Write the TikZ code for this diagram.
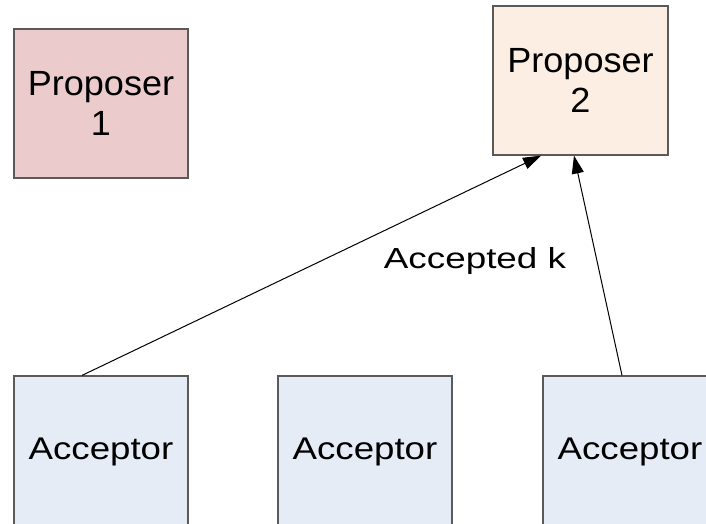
\documentclass[tikz,border=0pt]{standalone}
\usepackage{fontspec}
\setmainfont{Liberation Sans}
\usetikzlibrary{arrows.meta}
\definecolor{propA}{HTML}{EBCBCB}
\definecolor{propB}{HTML}{FCEEE2}
\definecolor{accfill}{HTML}{E6ECF6}
\definecolor{edgegray}{HTML}{5A5A5A}
% horizontally stretched sans text
\newcommand{\widetxt}[2][1.2]{\scalebox{#1}[1]{#2}}
\tikzset{
  box/.style={draw=edgegray, line width=0.9pt, rectangle, align=center,
    minimum width=130.5pt, inner sep=0pt},
  propbox/.style={box, minimum height=111.75pt,
    font=\fontsize{26.25}{30}\selectfont},
  accbox/.style={box, fill=accfill, minimum height=114pt,
    font=\fontsize{23.5}{27}\selectfont},
  link/.style={draw=black, line width=0.75pt,
    -{Triangle[length=13.5pt, width=9pt]}},
  lbl/.style={font=\fontsize{21.75}{26}\selectfont, inner sep=0pt}
}
\begin{document}
\begin{tikzpicture}[x=0.75pt, y=-0.75pt]
  \clip (0,0) rectangle (706,524);
  \fill[white] (0,0) rectangle (706,524);

  % proposers
  \node[propbox, fill=propA] (prop1) at (101,103.5)
    {\widetxt[1.03]{Proposer}\\\widetxt[1.03]{1}};
  \node[propbox, fill=propB, minimum width=131.25pt] (prop2) at (580.5,80.5)
    {\widetxt[1.03]{Proposer}\\\widetxt[1.03]{2}};

  % acceptors (their lower edges run past the bottom)
  \node[accbox] (acc1) at (101,452) {\widetxt[1.17]{Acceptor}};
  \node[accbox] (acc2) at (365,452) {\widetxt[1.17]{Acceptor}};
  \node[accbox] (acc3) at (630,452) {\widetxt[1.17]{Acceptor}};

  % accepted messages
  \draw[link] ([xshift=-14.25pt]acc1.north) -- ([xshift=-29.6pt]prop2.south);
  \draw[link] ([xshift=-6pt]acc3.north) -- ([xshift=-4.9pt]prop2.south);

  \node[lbl] (acclabel) at (475,261) {\widetxt[1.27]{Accepted k}};
\end{tikzpicture}
\end{document}
